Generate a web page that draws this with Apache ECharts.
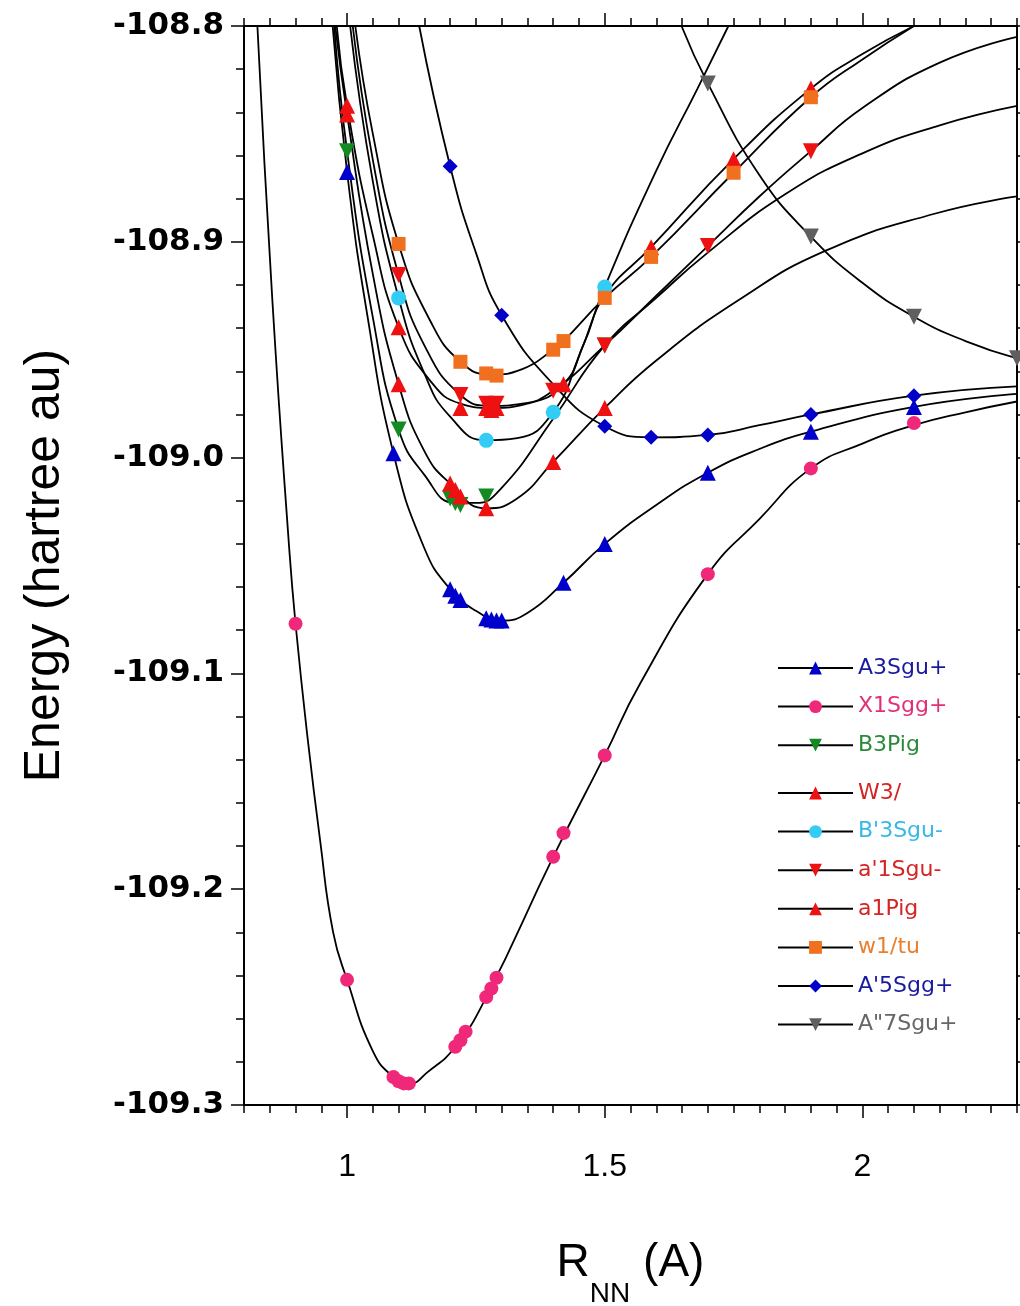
<!DOCTYPE html>
<html>
<head>
<meta charset="utf-8">
<title>N2 potential energy curves</title>
<script src="https://cdn.jsdelivr.net/npm/echarts@6/dist/echarts.min.js"></script>
<style>
    html, body { margin: 0; padding: 0; background: #fff; }
    #chart { width: 1020px; height: 1306px; }
</style>
</head>
<body>
<div id="chart"></div>
<script>

// Data (R in A, energy in hartree)
// ------------------------------

// tick values
var xLabelValues = [1, 1.5, 2];
var xMinorTicks = [0.8, 0.85, 0.9, 0.95, 1, 1.05, 1.1, 1.15, 1.2, 1.25, 1.3, 1.35, 1.4, 1.45, 1.5,
    1.55, 1.6, 1.65, 1.7, 1.75, 1.8, 1.85, 1.9, 1.95, 2, 2.05, 2.1, 2.15, 2.2, 2.25, 2.3];
var yLabelValues = [-109.3, -109.2, -109.1, -109.0, -108.9, -108.8];
var yMinorTicks = [-109.3, -109.28, -109.26, -109.24, -109.22, -109.2, -109.18, -109.16, -109.14, -109.12,
    -109.1, -109.08, -109.06, -109.04, -109.02, -109.0, -108.98, -108.96, -108.94, -108.92,
    -108.9, -108.88, -108.86, -108.84, -108.82, -108.8];

// state names, in legend order
var stateNames = ['A3Sgu+', 'X1Sgg+', 'B3Pig', 'W3/', "B'3Sgu-", "a'1Sgu-", 'a1Pig', 'w1/tu', "A'5Sgg+", 'A"7Sgu+'];

// computed points (markers)
var a3Marks = [[1.0, -108.8676], [1.09, -108.998], [1.2, -109.061], [1.21, -109.064], [1.22, -109.066],
    [1.27, -109.0745], [1.28, -109.075], [1.29, -109.0755], [1.3, -109.0755], [1.42, -109.058],
    [1.5, -109.04], [1.7, -109.007], [1.9, -108.988], [2.1, -108.9765]];
var x1Marks = [[0.9, -109.077], [1.0, -109.242], [1.09, -109.287], [1.1, -109.289], [1.11, -109.29],
    [1.12, -109.29], [1.21, -109.273], [1.22, -109.27], [1.23, -109.266], [1.27, -109.25],
    [1.28, -109.246], [1.29, -109.241], [1.4, -109.185], [1.42, -109.174], [1.5, -109.138],
    [1.7, -109.054], [1.9, -109.005], [2.1, -108.984]];
var b3Marks = [[1.0, -108.858], [1.1, -108.987], [1.2, -109.019], [1.21, -109.021], [1.22, -109.022],
    [1.27, -109.018], [1.5, -108.948]];
var w3Marks = [[1.0, -108.841], [1.1, -108.966], [1.2, -109.012], [1.21, -109.015], [1.22, -109.018],
    [1.27, -109.0235], [1.4, -109.002], [1.5, -108.977]];
var bp3Marks = [[1.1, -108.926], [1.27, -108.992], [1.4, -108.979], [1.5, -108.921]];
var ap1Marks = [[1.1, -108.9154], [1.22, -108.971], [1.27, -108.975], [1.28, -108.976], [1.29, -108.975],
    [1.4, -108.969], [1.5, -108.948], [1.7, -108.902], [1.9, -108.858]];
var a1Marks = [[1.0, -108.837], [1.1, -108.9396], [1.22, -108.977], [1.27, -108.977], [1.28, -108.978],
    [1.29, -108.977], [1.42, -108.966], [1.59, -108.9025], [1.75, -108.8617], [1.9, -108.829]];
var w1Marks = [[1.1, -108.901], [1.22, -108.9556], [1.27, -108.961], [1.29, -108.962], [1.4, -108.95],
    [1.42, -108.946], [1.5, -108.926], [1.59, -108.907], [1.75, -108.868], [1.9, -108.833]];
var ap5Marks = [[1.2, -108.865], [1.3, -108.934], [1.5, -108.9855], [1.59, -108.9906], [1.7, -108.9895],
    [1.9, -108.98], [2.1, -108.9713]];
var app7Marks = [[1.7, -108.8266], [1.9, -108.8976], [2.1, -108.9347], [2.3, -108.954]];

// fitted curves
var a3Curve = [[0.972, -108.80], [1.0, -108.8676], [1.04, -108.935], [1.09, -108.998], [1.15, -109.042],
    [1.2, -109.061], [1.25, -109.071], [1.3, -109.0755], [1.35, -109.072], [1.42, -109.058],
    [1.5, -109.04], [1.6, -109.022], [1.7, -109.007], [1.8, -108.996], [1.9, -108.988],
    [2.1, -108.9765], [2.3, -108.9705]];
var x1Curve = [[0.826, -108.80], [0.855, -108.927], [0.888, -109.043], [0.9, -109.077], [0.922, -109.127],
    [0.948, -109.178], [0.973, -109.22], [1.0, -109.242], [1.05, -109.275], [1.09, -109.287],
    [1.122, -109.29], [1.155, -109.285], [1.21, -109.273], [1.27, -109.25], [1.4, -109.185],
    [1.5, -109.138], [1.568, -109.105], [1.7, -109.054], [1.8, -109.0285], [1.9, -109.005],
    [2.0, -108.9935], [2.1, -108.985], [2.2, -108.979], [2.3, -108.974]];
var b3Curve = [[0.975, -108.80], [1.0, -108.858], [1.05, -108.935], [1.1, -108.987], [1.15, -109.008],
    [1.21, -109.021], [1.25, -109.021], [1.3, -109.014], [1.4, -108.982], [1.5, -108.948],
    [1.6, -108.926], [1.7, -108.905], [1.85, -108.878], [2.0, -108.859], [2.15, -108.846],
    [2.3, -108.837]];
var w3Curve = [[0.977, -108.80], [1.0, -108.841], [1.05, -108.915], [1.1, -108.966], [1.15, -108.997],
    [1.2, -109.012], [1.27, -109.0235], [1.33, -109.019], [1.4, -109.002], [1.5, -108.977],
    [1.6, -108.955], [1.76, -108.927], [1.93, -108.904], [2.14, -108.887], [2.3, -108.879]];
var bp3Curve = [[1.006, -108.80], [1.05, -108.872], [1.1, -108.926], [1.15, -108.961], [1.2, -108.981],
    [1.27, -108.992], [1.33, -108.991], [1.4, -108.979], [1.45, -108.953], [1.5, -108.921],
    [1.6, -108.867], [1.68, -108.829], [1.74, -108.80]];
var ap1Curve = [[1.011, -108.80], [1.05, -108.862], [1.1, -108.9154], [1.15, -108.948], [1.22, -108.971],
    [1.28, -108.976], [1.34, -108.975], [1.4, -108.969], [1.5, -108.948], [1.6, -108.925],
    [1.7, -108.902], [1.8, -108.879], [1.9, -108.858], [2.0, -108.838], [2.15, -108.817],
    [2.3, -108.805]];
var a1Curve = [[0.98, -108.80], [1.0, -108.837], [1.05, -108.897], [1.1, -108.9396], [1.16, -108.964],
    [1.22, -108.975], [1.28, -108.977], [1.35, -108.975], [1.42, -108.966], [1.46, -108.947],
    [1.5, -108.925], [1.59, -108.9025], [1.75, -108.8617], [1.9, -108.829], [2.0, -108.813],
    [2.1, -108.80]];
var w1Curve = [[1.016, -108.80], [1.05, -108.85], [1.1, -108.901], [1.16, -108.936], [1.22, -108.9556],
    [1.28, -108.9615], [1.34, -108.959], [1.4, -108.95], [1.42, -108.946], [1.5, -108.926],
    [1.59, -108.907], [1.75, -108.868], [1.9, -108.833], [2.0, -108.8155], [2.1, -108.80]];
var ap5Curve = [[1.14, -108.80], [1.2, -108.865], [1.25, -108.905], [1.3, -108.934], [1.4, -108.966],
    [1.5, -108.9855], [1.59, -108.9906], [1.7, -108.9895], [1.8, -108.985], [1.9, -108.98],
    [2.1, -108.9713], [2.3, -108.967]];
var app7Curve = [[1.649, -108.80], [1.7, -108.8266], [1.8, -108.869], [1.9, -108.8976], [2.0, -108.919],
    [2.1, -108.9347], [2.2, -108.946], [2.3, -108.954]];


// Setup chart
// ------------------------------

var chartElement = document.getElementById('chart');
var chart = echarts.init(chartElement, null, { renderer: 'canvas' });

var curves = {
    'A3Sgu+': a3Curve, 'X1Sgg+': x1Curve, 'B3Pig': b3Curve, 'W3/': w3Curve, "B'3Sgu-": bp3Curve,
    "a'1Sgu-": ap1Curve, 'a1Pig': a1Curve, 'w1/tu': w1Curve, "A'5Sgg+": ap5Curve, 'A"7Sgu+': app7Curve
};
var marks = {
    'A3Sgu+': a3Marks, 'X1Sgg+': x1Marks, 'B3Pig': b3Marks, 'W3/': w3Marks, "B'3Sgu-": bp3Marks,
    "a'1Sgu-": ap1Marks, 'a1Pig': a1Marks, 'w1/tu': w1Marks, "A'5Sgg+": ap5Marks, 'A"7Sgu+': app7Marks
};

// marker look of every state
var looks = {
    'A3Sgu+':  { color: '#0000cc', text: '#1a1aa0', symbol: 'triangle', rotate: 0,   size: 16 },
    'X1Sgg+':  { color: '#f0287a', text: '#e0307a', symbol: 'circle',   rotate: 0,   size: 14 },
    'B3Pig':   { color: '#138a22', text: '#2a8a3a', symbol: 'triangle', rotate: 180, size: 16 },
    'W3/':     { color: '#ee1111', text: '#d42424', symbol: 'triangle', rotate: 0,   size: 16 },
    "B'3Sgu-": { color: '#33ccf5', text: '#38b8e8', symbol: 'circle',   rotate: 0,   size: 15 },
    "a'1Sgu-": { color: '#ee1111', text: '#d42424', symbol: 'triangle', rotate: 180, size: 16 },
    'a1Pig':   { color: '#ee1111', text: '#d42424', symbol: 'triangle', rotate: 0,   size: 16 },
    'w1/tu':   { color: '#f07020', text: '#e88030', symbol: 'rect',     rotate: 0,   size: 14 },
    "A'5Sgg+": { color: '#0000c8', text: '#1a1aa0', symbol: 'diamond',  rotate: 0,   size: 15 },
    'A"7Sgu+': { color: '#5f5f5f', text: '#666666', symbol: 'triangle', rotate: 180, size: 16 }
};

var series = [];

// black fitted curves first
stateNames.forEach(function(name) {
    var lk = looks[name];
    series.push({
        name: name,
        type: 'line',
        data: curves[name],
        smooth: 0.5,
        showSymbol: false,
        symbol: lk.symbol,
        symbolRotate: lk.rotate,
        symbolSize: lk.size,
        color: lk.color,
        lineStyle: { color: '#000', width: 1.8 },
        silent: true,
        z: 2
    });
});

// coloured markers on top
stateNames.forEach(function(name) {
    var lk = looks[name];
    series.push({
        name: name,
        type: 'scatter',
        data: marks[name],
        symbol: lk.symbol,
        symbolRotate: lk.rotate,
        symbolSize: lk.size,
        itemStyle: { color: lk.color, opacity: 1 },
        silent: true,
        z: 3
    });
});

var legendItems = stateNames.map(function(name) {
    return { name: name, textStyle: { color: looks[name].text } };
});

var legendBase = {
    orient: 'vertical',
    left: 777,
    padding: 0,
    itemWidth: 75,
    itemHeight: 16,
    itemGap: 16.6,
    selectedMode: false,
    textStyle: {
        fontFamily: 'DejaVu Sans',
        fontSize: 22
    }
};

var lineBlack = { color: '#000', width: 2 };
var tickBlack = { color: '#000', width: 1.5 };

function xAxisPart(position, ticks, len, withLabels) {
    return {
        type: 'value',
        position: position,
        min: 0.8,
        max: 2.3,
        axisLine: { show: true, onZero: false, lineStyle: lineBlack },
        axisTick: { show: true, inside: false, length: len, customValues: ticks, lineStyle: tickBlack },
        axisLabel: withLabels ? {
            customValues: xLabelValues,
            formatter: function(v) { return String(v); },
            margin: 46,
            fontFamily: 'Liberation Sans',
            fontSize: 32,
            color: '#000'
        } : { show: false },
        splitLine: { show: false }
    };
}

function yAxisPart(position, ticks, len, withLabels) {
    return {
        type: 'value',
        position: position,
        min: -109.3,
        max: -108.8,
        axisLine: { show: true, onZero: false, lineStyle: lineBlack },
        axisTick: { show: true, inside: false, length: len, customValues: ticks, lineStyle: tickBlack },
        axisLabel: withLabels ? {
            customValues: yLabelValues,
            formatter: function(v) { return v.toFixed(1); },
            margin: 20,
            fontFamily: 'DejaVu Sans',
            fontWeight: 'bold',
            fontSize: 31,
            color: '#000'
        } : { show: false },
        splitLine: { show: false }
    };
}

var xMain = xAxisPart('bottom', xLabelValues, 13, true);
xMain.name = '{r|R}{s|NN}{r| (A)}';
xMain.nameLocation = 'middle';
xMain.nameGap = 135;
xMain.nameTextStyle = {
    rich: {
        r: { fontFamily: 'Liberation Sans', fontSize: 46, color: '#000', lineHeight: 46, verticalAlign: 'top' },
        s: { fontFamily: 'Liberation Sans', fontSize: 28, color: '#000', lineHeight: 28, verticalAlign: 'top', padding: [40, 0, 0, 0] }
    }
};

var yMain = yAxisPart('left', yLabelValues, 13, true);
yMain.name = 'Energy (hartree au)';
yMain.nameLocation = 'middle';
yMain.nameRotate = 90;
yMain.nameGap = 174;
yMain.nameTextStyle = { fontFamily: 'Liberation Sans', fontSize: 50, color: '#000' };

chart.setOption({
    animation: false,
    backgroundColor: '#fff',
    grid: {
        left: 244,
        right: 3,
        top: 26,
        bottom: 201,
        outerBoundsMode: 'none',
        containLabel: false
    },
    legend: [
        Object.assign({}, legendBase, { top: 657, data: legendItems.slice(0, 3) }),
        Object.assign({}, legendBase, { top: 782, data: legendItems.slice(3) })
    ],
    xAxis: [
        xMain,
        xAxisPart('bottom', xMinorTicks, 8, false),
        xAxisPart('top', xLabelValues, 13, false),
        xAxisPart('top', xMinorTicks, 8, false)
    ],
    yAxis: [
        yMain,
        yAxisPart('left', yMinorTicks, 8, false),
        yAxisPart('right', yLabelValues, 13, false),
        yAxisPart('right', yMinorTicks, 8, false)
    ],
    series: series
});

window.addEventListener('resize', function() {
    chart.resize();
});
</script>
</body>
</html>
